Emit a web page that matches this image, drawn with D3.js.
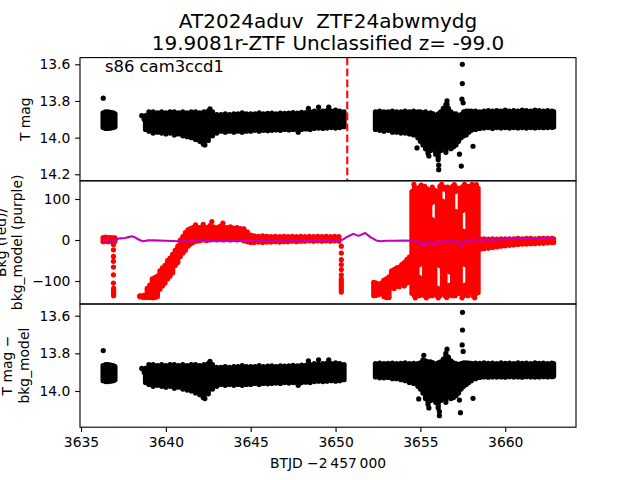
<!DOCTYPE html>
<html><head><meta charset="utf-8">
<script src="https://cdn.jsdelivr.net/npm/d3@7"></script>
<style>body{margin:0;background:#fff}svg{display:block}text{font-family:"DejaVu Sans",sans-serif;white-space:pre}</style>
</head><body><svg id="c" width="640" height="480"></svg>
<script>
// ---------------- data ----------------
const titleLines = ["AT2024aduv  ZTF24abwmydg", "19.9081r-ZTF Unclassified z= -99.0"];
const sectorLabel = "s86 cam3ccd1";
const xLabel = "BTJD \u22122\u2009457\u2009000";
const xTicks = [3635, 3640, 3645, 3650, 3655, 3660];
const magTicks = [13.6, 13.8, 14.0, 14.2];
const bkgTicks = [100, 0, -100];
const corrTicks = [13.6, 13.8, 14.0];
const eventTime = 3650.69;

// T mag: dense band of points [time, brightest mag, faintest mag]
const magBand = [
[3636.30,13.865,13.945],[3636.45,13.860,13.950],[3636.60,13.860,13.950],[3636.75,13.862,13.948],[3636.90,13.865,13.945],[3637.00,13.870,13.940],
[3638.80,13.880,13.955],[3639.00,13.860,13.965],[3639.25,13.860,13.975],[3639.50,13.865,13.970],[3639.75,13.860,13.975],[3640.00,13.865,13.980],
[3640.25,13.860,13.975],[3640.50,13.860,13.985],[3640.75,13.865,13.980],[3641.00,13.860,13.990],[3641.25,13.865,13.995],[3641.50,13.860,14.000],
[3641.75,13.860,14.010],[3642.00,13.865,14.020],[3642.25,13.860,14.030],[3642.50,13.855,14.015],[3642.75,13.860,13.990],[3643.00,13.875,13.975],
[3643.25,13.875,13.965],[3643.50,13.870,13.970],[3643.75,13.875,13.965],[3644.00,13.870,13.970],[3644.25,13.870,13.965],[3644.50,13.865,13.970],
[3644.75,13.870,13.965],[3645.00,13.870,13.965],[3645.25,13.870,13.960],[3645.50,13.865,13.965],[3645.75,13.870,13.960],[3646.00,13.868,13.962],
[3646.25,13.866,13.960],[3646.50,13.870,13.958],[3646.75,13.866,13.960],[3647.00,13.868,13.955],[3647.25,13.866,13.958],[3647.50,13.864,13.955],
[3647.75,13.866,13.957],[3648.00,13.862,13.955],[3648.25,13.864,13.953],[3648.50,13.860,13.955],[3648.75,13.855,13.950],[3649.00,13.858,13.948],
[3649.25,13.855,13.950],[3649.50,13.852,13.948],[3649.75,13.855,13.945],[3650.00,13.850,13.948],[3650.25,13.855,13.945],[3650.50,13.860,13.940]
];
const magBandLate = [
[3652.35,13.860,13.955],[3652.60,13.855,13.960],[3652.85,13.860,13.965],[3653.10,13.860,13.960],[3653.35,13.855,13.970],[3653.60,13.860,13.970],
[3653.85,13.860,13.975],[3654.10,13.855,13.975],[3654.35,13.860,13.980],[3654.60,13.855,13.985],[3654.85,13.860,14.000],[3655.00,13.860,14.020],
[3655.15,13.865,14.040],[3655.30,13.860,14.060],[3655.45,13.870,14.085],[3655.60,13.865,14.070],[3655.75,13.870,14.050],[3655.90,13.880,14.090],
[3656.05,13.870,14.120],[3656.20,13.860,14.070],[3656.35,13.840,14.060],[3656.50,13.820,14.080],[3656.65,13.840,14.050],[3656.80,13.860,14.060],
[3656.95,13.870,14.050],[3657.10,13.870,14.040],[3657.25,13.880,14.020],[3657.40,13.875,14.000],[3657.55,13.860,13.990],[3657.70,13.855,13.985],
[3657.85,13.855,13.970],[3658.00,13.855,13.960],[3658.25,13.855,13.955],[3658.50,13.860,13.950],[3658.75,13.855,13.948],[3659.00,13.852,13.945],
[3659.25,13.855,13.950],[3659.50,13.853,13.945],[3659.75,13.855,13.948],[3660.00,13.850,13.945],[3660.25,13.855,13.948],[3660.50,13.852,13.945],
[3660.75,13.855,13.947],[3661.00,13.850,13.945],[3661.25,13.853,13.948],[3661.50,13.855,13.945],[3661.75,13.850,13.947],[3662.00,13.853,13.945],
[3662.25,13.855,13.946],[3662.50,13.852,13.945],[3662.75,13.855,13.944],[3662.85,13.858,13.942]
];
// isolated T mag points [time, mag]
const magPoints = [
[3636.31,13.785],[3638.58,13.880],[3638.72,13.900],[3642.60,13.843],[3642.20,14.035],[3642.30,14.040],[3647.80,13.970],
[3648.40,13.840],[3649.00,13.834],[3649.60,13.834]
];
const magPointsLate = [
[3657.47,13.600],[3657.47,13.705],[3657.45,13.790],[3657.52,13.810],[3657.41,14.155],[3654.80,14.056],[3658.10,14.047],
[3656.08,14.175],[3656.08,14.150],[3657.30,14.090],[3656.57,13.800],[3656.57,13.820],[3655.50,14.100]
];
// T mag - bkg_model, late segment (early segments match T mag)
const corrBandLate = [
[3652.35,13.855,13.925],[3652.60,13.852,13.930],[3652.85,13.855,13.930],[3653.10,13.853,13.928],[3653.35,13.852,13.935],[3653.60,13.855,13.935],
[3653.85,13.853,13.940],[3654.10,13.850,13.945],[3654.35,13.855,13.955],[3654.60,13.853,13.960],[3654.85,13.855,13.975],[3655.00,13.850,13.990],
[3655.15,13.835,14.010],[3655.30,13.840,14.040],[3655.45,13.845,14.070],[3655.60,13.845,14.050],[3655.75,13.850,14.030],[3655.90,13.860,14.060],
[3656.05,13.850,14.090],[3656.20,13.845,14.050],[3656.35,13.830,14.040],[3656.50,13.800,14.060],[3656.65,13.820,14.030],[3656.80,13.840,14.040],
[3656.95,13.850,14.035],[3657.10,13.855,14.025],[3657.25,13.860,14.010],[3657.40,13.855,13.990],[3657.55,13.850,13.975],[3657.70,13.850,13.965],
[3657.85,13.852,13.955],[3658.00,13.853,13.945],[3658.25,13.852,13.935],[3658.50,13.853,13.928],[3658.75,13.850,13.925],[3659.00,13.853,13.927],
[3659.25,13.852,13.925],[3659.50,13.855,13.926],[3659.75,13.850,13.925],[3660.00,13.853,13.927],[3660.25,13.852,13.924],[3660.50,13.855,13.926],
[3660.75,13.850,13.925],[3661.00,13.853,13.927],[3661.25,13.852,13.924],[3661.50,13.855,13.925],[3661.75,13.850,13.926],[3662.00,13.853,13.925],
[3662.25,13.852,13.924],[3662.50,13.855,13.925],[3662.75,13.852,13.924],[3662.85,13.855,13.922]
];
const corrPointsLate = [
[3657.48,13.582],[3657.48,13.676],[3657.46,13.755],[3657.52,13.790],[3657.36,14.115],[3657.30,14.048],[3658.10,14.039],
[3654.90,14.042],[3656.12,14.131],[3656.12,14.110],[3656.57,13.778],[3655.20,13.810],[3655.50,14.090]
];
// background flux (red): [time, low, high]
const bkgBand = [
[3636.30,-4,6],[3636.45,-3,7],[3636.60,-4,6],[3636.75,-3,6],[3636.90,-4,5],[3637.00,-3,5],[3636.92,-136,-118],
[3638.50,-139,-136],[3638.70,-140,-135],[3638.90,-140,-118],[3639.05,-140,-110],[3639.20,-141,-95],[3639.35,-140,-92],[3639.50,-138,-88],
[3639.65,-120,-75],[3639.80,-112,-68],[3639.95,-105,-62],[3640.10,-95,-50],[3640.25,-88,-44],[3640.40,-80,-35],[3640.55,-62,-25],
[3640.70,-55,-15],[3640.85,-40,0],[3641.00,-32,8],[3641.15,-25,18],[3641.30,-15,25],[3641.45,-10,28],[3641.60,-6,30],[3641.80,-3,32],
[3642.00,-2,30],[3642.20,0,33],[3642.40,-1,30],[3642.60,0,35],[3642.80,1,32],[3643.00,0,30],[3643.20,1,33],[3643.40,0,31],[3643.60,1,30],
[3643.80,0,32],[3644.00,1,29],[3644.20,0,30],[3644.40,1,28],[3644.60,-2,27],[3644.80,-4,20],[3645.00,-6,12],[3645.20,-6,10],[3645.45,-5,9],
[3645.70,-6,10],[3645.95,-5,9],[3646.20,-5,8],[3646.45,-4,9],[3646.70,-5,8],[3646.95,-4,9],[3647.20,-4,8],[3647.45,-3,9],[3647.70,-4,8],
[3647.95,-3,9],[3648.20,-3,8],[3648.45,-2,9],[3648.70,-3,8],[3648.95,-2,9],[3649.20,-3,8],[3649.45,-2,9],[3649.70,-3,8],[3649.95,-2,9],
[3650.20,-3,8],[3650.34,-127,-95],
[3652.25,-136,-103],[3652.40,-135,-105],[3652.55,-133,-108],[3652.70,-130,-105],[3652.85,-138,-98],[3653.00,-140,-95],[3653.15,-140,-90],
[3653.30,-115,-75],[3653.45,-118,-72],[3653.60,-112,-68],[3653.75,-114,-66],[3653.90,-108,-60],[3654.05,-112,-55],[3654.20,-105,-48],
[3654.35,-102,-42],
[3654.50,-130,118],[3654.65,-136,129],[3654.80,-134,126],
[3654.95,40,129],[3654.95,-60,28],[3654.95,-136,-92],[3655.10,45,122],[3655.10,-55,30],[3655.10,-132,-95],
[3655.25,-136,131],[3655.40,-128,125],[3655.55,-136,120],
[3655.70,92,129],[3655.70,-136,50],[3655.85,95,121],[3655.85,-132,45],
[3656.00,-60,118],[3656.00,-136,-118],[3656.15,-62,131],[3656.15,-136,-120],
[3656.30,125,131],[3656.30,-130,95],[3656.45,124,128],[3656.45,-136,92],
[3656.60,-75,129],[3656.60,-136,-112],[3656.75,-78,122],[3656.75,-134,-110],
[3656.90,-136,131],
[3657.05,118,130],[3657.05,-136,70],[3657.20,120,126],[3657.20,-130,68],
[3657.35,-130,126],
[3657.50,72,130],[3657.50,-58,22],[3657.50,-136,-112],[3657.65,75,124],[3657.65,-60,20],[3657.65,-134,-110],
[3657.80,-136,131],[3657.95,-125,124],[3658.10,-136,130],[3658.25,-132,131],[3658.40,-128,126],
[3658.55,-22,2],[3658.75,-21,3],[3659.00,-20,2],[3659.25,-18,3],[3659.50,-17,2],[3659.75,-15,3],[3660.00,-14,3],[3660.25,-13,3],
[3660.50,-12,3],[3660.75,-11,4],[3661.00,-10,3],[3661.25,-10,4],[3661.50,-9,4],[3661.75,-9,3],[3662.00,-8,4],[3662.25,-8,4],
[3662.50,-7,4],[3662.75,-6,4],[3662.85,-6,3]
];
const bkgPoints = [
[3636.91,-11],[3636.91,-24],[3636.91,-40],[3636.91,-52],[3636.91,-66],[3636.91,-85],[3636.91,-105],
[3641.75,37],[3642.71,45],[3643.36,41],[3642.20,38],[3638.45,-137],
[3650.34,-15],[3650.34,-32],[3650.34,-48],[3650.34,-60],[3650.34,-72],[3650.34,-85],
[3654.62,136],[3655.05,134],[3656.25,136],[3657.00,135],[3657.60,136],[3658.05,136],[3658.30,135],
[3654.70,-141],[3655.35,-141],[3656.05,-141],[3656.55,-140],[3657.45,-141],[3658.20,-141]
];
// background model (purple line)
const modelT = [3636.30,3636.60,3636.90,3637.10,3637.30,3637.60,3637.80,3638.00,3638.20,3638.45,3638.65,3638.90,3639.30,3640.00,3640.80,
3641.50,3642.00,3643.00,3644.00,3645.00,3646.00,3647.00,3648.00,3649.00,3650.00,3650.40,3650.70,3651.05,3651.35,3651.75,3652.05,3652.40,
3652.65,3653.00,3653.50,3654.00,3654.60,3654.90,3655.05,3655.20,3655.35,3655.50,3655.65,3655.80,3655.95,3656.20,3656.50,3656.80,3657.10,
3657.30,3657.46,3657.60,3657.90,3658.20,3659.00,3660.00,3661.00,3662.00,3662.85];
const modelV = [1,0,-2,2,4,5,7,9,6,0,-3,-1,-1,-2,-3,-1,0,-0.5,-0.5,-1,-0.5,-1,-0.5,-1,-0.5,0.5,8,15,10,17,7,-1,-3,-2,-2,-1.5,-2,-4,-6,-15,-5,-4,-8,
-13,-4,-5,-3,-4,-3,-6,-14,-3,-1,0.5,1,2,3,4,5];

// ---------------- drawing ----------------
const svg = d3.select("#c");
const L = 80, R = 576, T0 = 57.6, T1 = 180.8, T2 = 304, T3 = 427.2;
const FONT = "DejaVu Sans";
const x = d3.scaleLinear().domain([3634.94, 3664.17]).range([L, R]);
const yMag = d3.scaleLinear().domain([13.5634, 14.2355]).range([T0, T1]);
const yBkg = d3.scaleLinear().domain([144.4, -156.1]).range([T1, T2]);
const yCorr = d3.scaleLinear().domain([13.5378, 14.1923]).range([T2, T3]);
const DOT = 5.2;

const defs = svg.append("defs");
function panel(id, top, bottom) {
  defs.append("clipPath").attr("id", id).append("rect")
    .attr("x", L).attr("y", top).attr("width", R - L).attr("height", bottom - top);
  return svg.append("g").attr("clip-path", `url(#${id})`);
}
function bands(g, rows, y, color) {
  g.append("g").selectAll("line").data(rows).join("line")
    .attr("x1", d => x(d[0])).attr("x2", d => x(d[0]))
    .attr("y1", d => y(d[1])).attr("y2", d => y(d[2]))
    .attr("stroke", color).attr("stroke-width", DOT).attr("stroke-linecap", "round");
}
function dots(g, rows, y, color) {
  g.append("g").selectAll("circle").data(rows).join("circle")
    .attr("cx", d => x(d[0])).attr("cy", d => y(d[1])).attr("r", DOT / 2).attr("fill", color);
}

// top panel
const g1 = panel("c1", T0, T1);
bands(g1, magBand.concat(magBandLate), yMag, "#000");
dots(g1, magPoints.concat(magPointsLate), yMag, "#000");
g1.append("line").attr("x1", x(eventTime)).attr("x2", x(eventTime)).attr("y1", T0).attr("y2", T1)
  .attr("stroke", "#ff0000").attr("stroke-width", 2.08).attr("stroke-dasharray", "7.7,3.3");

// middle panel
const g2 = panel("c2", T1, T2);
bands(g2, bkgBand, yBkg, "#ff0000");
dots(g2, bkgPoints, yBkg, "#ff0000");
g2.append("path").datum(modelT.map((t, i) => [t, modelV[i]]))
  .attr("d", d3.line().x(d => x(d[0])).y(d => yBkg(d[1])))
  .attr("fill", "none").attr("stroke", "#bf00bf").attr("stroke-width", 2.08).attr("stroke-linejoin", "round");

// bottom panel
const g3 = panel("c3", T2, T3);
bands(g3, magBand.concat(corrBandLate), yCorr, "#000");
dots(g3, magPoints.concat(corrPointsLate), yCorr, "#000");

// frames
[[T0, T1], [T1, T2], [T2, T3]].forEach(([a, b]) => {
  svg.append("rect").attr("x", L).attr("y", a).attr("width", R - L).attr("height", b - a)
    .attr("fill", "none").attr("stroke", "#000").attr("stroke-width", 1.11);
});

function styleAxis(g) {
  g.select(".domain").remove();
  g.selectAll(".tick line").attr("stroke", "#000").attr("stroke-width", 1.11);
  g.selectAll(".tick text").attr("font-size", 13.89).attr("font-family", FONT).attr("fill", "#000");
}
function yAxis(scale, ticks, fmt) {
  const g = svg.append("g").attr("transform", `translate(${L},0)`)
    .call(d3.axisLeft(scale).tickValues(ticks).tickFormat(fmt).tickSize(4.86).tickPadding(4.86));
  styleAxis(g);
}
yAxis(yMag, magTicks, d3.format(".1f"));
yAxis(yBkg, bkgTicks, d3.format("d"));
yAxis(yCorr, corrTicks, d3.format(".1f"));
const gx = svg.append("g").attr("transform", `translate(0,${T3})`)
  .call(d3.axisBottom(x).tickValues(xTicks).tickFormat(d3.format("d")).tickSize(4.86).tickPadding(4.86));
styleAxis(gx);

// texts
svg.append("text").attr("x", (L + R) / 2).attr("y", 27.5).attr("text-anchor", "middle").attr("xml:space", "preserve")
  .attr("font-size", 20).attr("font-family", FONT).text(titleLines[0]);
svg.append("text").attr("x", (L + R) / 2).attr("y", 49.5).attr("text-anchor", "middle")
  .attr("font-size", 20).attr("font-family", FONT).text(titleLines[1]);
svg.append("text").attr("x", 105).attr("y", 71.5).attr("font-size", 16.4).attr("font-family", FONT).text(sectorLabel);
svg.append("text").attr("x", (L + R) / 2).attr("y", 468.4).attr("text-anchor", "middle")
  .attr("font-size", 13.89).attr("font-family", FONT).text(xLabel);

function yLabel(lines, xs, cy) {
  lines.forEach((s, i) => {
    svg.append("text").attr("transform", `translate(${xs[i]},${cy}) rotate(-90)`)
      .attr("text-anchor", "middle").attr("font-size", 13.89).attr("font-family", FONT).text(s);
  });
}
yLabel(["T mag"], [30], (T0 + T1) / 2);
yLabel(["Bkg (red)/", "bkg_model (purple)"], [5.5, 22.2], (T1 + T2) / 2);
yLabel(["T mag \u2212", "bkg_model"], [11.8, 28.5], (T2 + T3) / 2);
</script></body></html>
